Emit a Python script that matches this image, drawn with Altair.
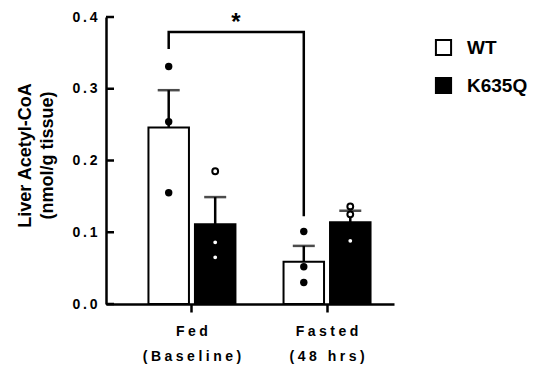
import altair as alt
import pandas as pd

# ---- data ----
conditions = ["Fed", "Fasted"]
condition_sub = ["(Baseline)", "(48 hrs)"]
genotypes = ["WT", "K635Q"]

bar_condition = ["Fed", "Fed", "Fasted", "Fasted"]
bar_genotype = ["WT", "K635Q", "WT", "K635Q"]
bar_mean = [0.246, 0.111, 0.059, 0.114]
bar_sem = [0.052, 0.038, 0.022, 0.016]

pt_condition = ["Fed"] * 6 + ["Fasted"] * 6
pt_genotype = ["WT"] * 3 + ["K635Q"] * 3 + ["WT"] * 3 + ["K635Q"] * 3
pt_value = [0.331, 0.254, 0.155, 0.185, 0.086, 0.065,
            0.101, 0.052, 0.030, 0.136, 0.125, 0.088]

bracket_condition = ["Fed", "Fed", "Fasted", "Fasted"]
bracket_value = [0.357, 0.379, 0.379, 0.124]
bracket_order = [0, 1, 2, 3]

y_ticks = [0.0, 0.1, 0.2, 0.3, 0.4]

FONT = "Liberation Sans"
SP = "\u2005"
TH = "\u2009"

bars = pd.DataFrame({"condition": bar_condition, "genotype": bar_genotype,
                     "mean": bar_mean, "sem": bar_sem})
bars["upper"] = bars["mean"] + bars["sem"]
pts = pd.DataFrame({"condition": pt_condition, "genotype": pt_genotype, "value": pt_value})
bracket = pd.DataFrame({"condition": bracket_condition, "genotype": ["WT"] * 4,
                        "value": bracket_value, "order": bracket_order})
ticks = pd.DataFrame({"v": y_ticks})

def spaced(s, sep):
    return sep.join(list(s))

label_expr = " : ".join(
    [f"datum.value == '{c}' ? ['{spaced(c, SP)}', '{spaced(s, SP)}']" for c, s in zip(conditions, condition_sub)]
) + " : datum.label"

xscale = alt.Scale(domain=conditions, paddingInner=0.356, paddingOuter=0.244, align=0.644)
xoff = alt.Scale(domain=genotypes, paddingInner=0.129, paddingOuter=0)
yscale = alt.Scale(domain=[0, 0.4], nice=False, zero=True)

x_enc = alt.X("condition:N", scale=xscale, sort=conditions,
              axis=alt.Axis(title=None, labelExpr=label_expr, labelAngle=0,
                            labelFont=FONT, labelFontSize=14, labelFontWeight="bold",
                            labelLineHeight=25, labelPadding=12, labelColor="black",
                            tickSize=8, tickWidth=2.5, tickColor="black",
                            domainWidth=2.5, domainColor="black", labelBaseline="top"))
xo_enc = alt.XOffset("genotype:N", scale=xoff, sort=genotypes)
y_label_expr = "join(split(format(datum.value, '.1f'), ''), '" + TH + "')"
y_enc = alt.Y("mean:Q", scale=yscale,
              axis=alt.Axis(title=["Liver Acetyl-CoA", "(nmol/g tissue)"],
                            values=y_ticks, labelExpr=y_label_expr,
                            labelFont=FONT, labelFontSize=14, labelFontWeight="bold",
                            labelColor="black", labelPadding=9, ticks=False,
                            domainWidth=2.5, domainColor="black",
                            titleFont=FONT, titleFontSize=18, titleFontWeight="bold",
                            titleColor="black", titleLineHeight=22,
                            titleAngle=270, titleBaseline="middle", titleAlign="center",
                            titleX=-81, titleY=138))

bar_layer = alt.Chart(bars).mark_bar(stroke="black", strokeWidth=2).encode(
    x=x_enc, xOffset=xo_enc, y=y_enc,
    fill=alt.Fill("genotype:N", scale=alt.Scale(domain=genotypes, range=["white", "black"]),
                  legend=alt.Legend(title=None, orient="none", legendX=328, legendY=21,
                                    symbolType="square", symbolSize=230,
                                    symbolStrokeColor="black", symbolStrokeWidth=2,
                                    labelFont=FONT, labelFontSize=19, labelFontWeight="bold",
                                    labelColor="black", labelOffset=14, rowPadding=13)),
)

err_rule = alt.Chart(bars).mark_rule(color="black", strokeWidth=2.5).encode(
    x=alt.X("condition:N", scale=xscale, sort=conditions), xOffset=xo_enc,
    y=alt.Y("mean:Q", scale=yscale), y2="upper:Q")
err_cap = alt.Chart(bars).mark_tick(color="black", size=22, thickness=2.5).encode(
    x=alt.X("condition:N", scale=xscale, sort=conditions), xOffset=xo_enc,
    y=alt.Y("upper:Q", scale=yscale))

points = alt.Chart(pts).mark_point(filled=True, shape="circle", opacity=1).encode(
    x=alt.X("condition:N", scale=xscale, sort=conditions), xOffset=xo_enc,
    y=alt.Y("value:Q", scale=yscale),
    fill=alt.condition(alt.datum.genotype == "WT", alt.value("black"), alt.value("white")),
    stroke=alt.value("black"),
    strokeWidth=alt.condition(alt.datum.genotype == "WT", alt.value(0), alt.value(2)),
    size=alt.condition(alt.datum.genotype == "WT", alt.value(55), alt.value(34)),
)

bracket_layer = alt.Chart(bracket).mark_line(color="black", strokeWidth=2.5, strokeCap="square").encode(
    x=alt.X("condition:N", scale=xscale, sort=conditions), xOffset=xo_enc,
    y=alt.Y("value:Q", scale=yscale), order="order:Q")

star = alt.Chart(pd.DataFrame({"t": ["*"]})).mark_text(
    font=FONT, fontSize=24, fontWeight="bold", color="black", baseline="top", align="center"
).encode(text="t:N", x=alt.value(130), y=alt.datum(0.4085))

inner_ticks = alt.Chart(ticks).mark_rule(color="black", strokeWidth=2.5).encode(
    y=alt.Y("v:Q", scale=yscale), x=alt.value(0), x2=alt.value(8))

chart = alt.layer(bar_layer, err_rule, err_cap, points, bracket_layer, star, inner_ticks).properties(
    width=288, height=287,
    autosize=alt.AutoSizeParams(type="none"),
    padding={"left": 98, "top": 9, "right": 139, "bottom": 60},
).configure_view(stroke=None).configure_axis(grid=False)

chart.save("out.html", embed_options={"renderer": "svg", "actions": False})
